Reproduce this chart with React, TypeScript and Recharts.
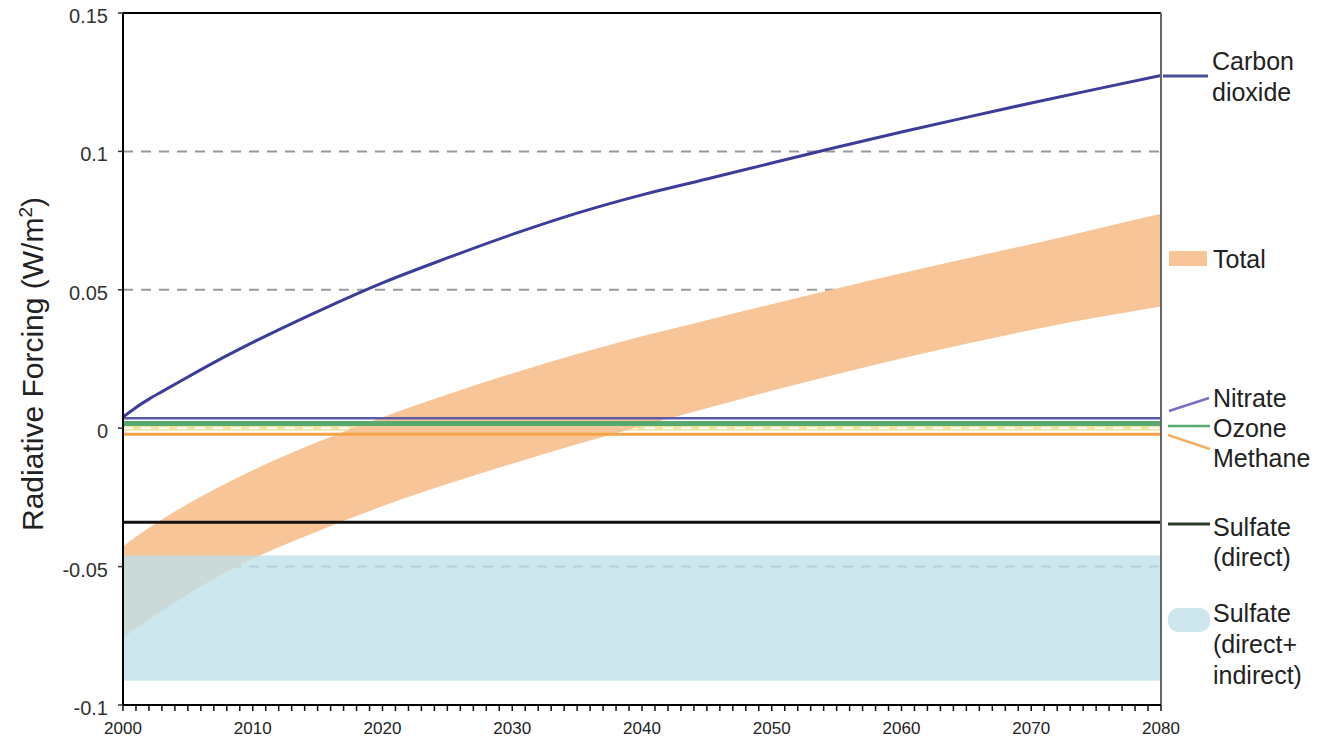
import React from 'react';
import {
  ComposedChart,
  Line,
  Area,
  XAxis,
  YAxis,
  CartesianGrid,
  ReferenceLine,
} from 'recharts';

// Carbon dioxide forcing curve (W/m²)
const CO2_YEARS = [2000, 2001, 2002, 2003, 2005, 2008, 2010, 2013, 2016, 2020, 2025, 2030, 2035, 2040, 2045, 2050, 2055, 2060, 2065, 2070, 2075, 2080];
const CO2_VALUES = [0.004, 0.0075, 0.0105, 0.0132, 0.0185, 0.0262, 0.031, 0.0378, 0.0443, 0.0525, 0.0615, 0.07, 0.0777, 0.0843, 0.09, 0.0958, 0.1015, 0.107, 0.1123, 0.1175, 0.1225, 0.1274];

// Total forcing uncertainty band
const TOTAL_YEARS = [2000, 2002, 2004, 2007, 2010, 2015, 2020, 2025, 2030, 2035, 2040, 2045, 2050, 2055, 2060, 2065, 2070, 2075, 2080];
const TOTAL_LOW = [-0.0756, -0.069, -0.063, -0.0545, -0.0472, -0.0372, -0.0282, -0.0202, -0.0128, -0.0058, 0.0008, 0.0072, 0.0135, 0.0195, 0.0252, 0.0305, 0.0355, 0.04, 0.044];
const TOTAL_HIGH = [-0.0427, -0.036, -0.0301, -0.0222, -0.0152, -0.005, 0.004, 0.0122, 0.0198, 0.0268, 0.0332, 0.039, 0.0448, 0.0505, 0.056, 0.0613, 0.0665, 0.072, 0.0775];

// Constant contributions across the whole period
const SPAN_YEARS = [2000, 2080];
const NITRATE = 0.0036;
const OZONE = 0.0017;
const METHANE = -0.0022;
const SULFATE_DIRECT = -0.034;
const SULFATE_TOTAL_LOW = -0.0912;
const SULFATE_TOTAL_HIGH = -0.046;

// Axis ticks
const Y_TICKS = [-0.1, -0.05, 0, 0.05, 0.1, 0.15];
const Y_TICK_LABELS = ['-0.1', '-0.05', '0', '0.05', '0.1', '0.15'];
const X_LABEL_YEARS = [2000, 2010, 2020, 2030, 2040, 2050, 2060, 2070, 2080];
const X_MINOR_TICKS = Array.from({ length: 81 }, (_, i) => 2000 + i);

const FONT = '"Liberation Sans", Arial, Helvetica, sans-serif';

const co2Data = CO2_YEARS.map((year, i) => ({ year, v: CO2_VALUES[i] }));
const totalData = TOTAL_YEARS.map((year, i) => ({ year, range: [TOTAL_LOW[i], TOTAL_HIGH[i]] }));
const flat = (v: number) => SPAN_YEARS.map((year) => ({ year, v }));
const sulfateBand = SPAN_YEARS.map((year) => ({ year, range: [SULFATE_TOTAL_LOW, SULFATE_TOTAL_HIGH] }));

const YTick = (props: any) => {
  const { x, y, payload } = props;
  const idx = Y_TICKS.indexOf(payload.value);
  return (
    <text x={x} y={y + 10} textAnchor="end" fontSize={20} fill="#333" fontFamily={FONT}>
      {idx >= 0 ? Y_TICK_LABELS[idx] : ''}
    </text>
  );
};

const XTick = (props: any) => {
  const { x, y, payload } = props;
  if (!X_LABEL_YEARS.includes(payload.value)) return <g />;
  return (
    <text x={x} y={y + 21} textAnchor="middle" fontSize={17} fill="#222" fontFamily={FONT}>
      {String(payload.value)}
    </text>
  );
};

const Legend = () => (
  <svg
    width={1323}
    height={739}
    style={{ position: 'absolute', left: 0, top: 0, pointerEvents: 'none' }}
    fontFamily={FONT}
  >
    <text transform="rotate(-90)" x={-364} y={43} textAnchor="middle" fontSize={30} fill="#222">
      Radiative Forcing (W/m<tspan dy={-11} fontSize={19}>2</tspan>
      <tspan dy={11}>)</tspan>
    </text>

    <g fontSize={25} fill="#222">
      <line x1={1163} y1={76} x2={1208} y2={76} stroke="#4a4d9c" strokeWidth={3} />
      <text x={1212} y={70}>Carbon</text>
      <text x={1212} y={101}>dioxide</text>

      <rect x={1169} y={251} width={38} height={15} fill="#f7c598" />
      <text x={1213} y={268}>Total</text>

      <line x1={1169} y1={411} x2={1209} y2={398} stroke="#7a6fc2" strokeWidth={2.5} />
      <text x={1213} y={407}>Nitrate</text>
      <line x1={1168} y1={426} x2={1210} y2={426} stroke="#5aaa6e" strokeWidth={2.5} />
      <text x={1213} y={437}>Ozone</text>
      <line x1={1168} y1={435} x2={1210} y2={449} stroke="#f2b060" strokeWidth={2.5} />
      <text x={1213} y={467}>Methane</text>

      <line x1={1168} y1={524} x2={1210} y2={524} stroke="#2a3a2a" strokeWidth={3} />
      <text x={1213} y={536}>Sulfate</text>
      <text x={1213} y={566}>(direct)</text>

      <rect x={1168} y={608} width={42} height={24} rx={10} fill="#cde6ee" />
      <text x={1213} y={622}>Sulfate</text>
      <text x={1213} y={653}>(direct+</text>
      <text x={1213} y={684}>indirect)</text>
    </g>
  </svg>
);

export default function App() {
  return (
    <div style={{ position: 'absolute', left: 0, top: 0, width: 1323, height: 739, background: '#fff' }}>
      <ComposedChart width={1323} height={739} margin={{ top: 13, right: 162, bottom: 0, left: 0 }}>
        <CartesianGrid vertical={false} horizontalValues={[0]} stroke="#efe2a2" strokeWidth={5} />
        <CartesianGrid vertical={false} horizontalValues={[0]} stroke="#ffffff" strokeWidth={2} strokeDasharray="10 8" />
        <CartesianGrid vertical={false} horizontalValues={[0.1, 0.05, -0.05]} stroke="#9a9a9a" strokeWidth={2} strokeDasharray="10 8" />
        <XAxis
          type="number"
          dataKey="year"
          domain={[2000, 2080]}
          ticks={X_MINOR_TICKS}
          interval={0}
          allowDataOverflow
          height={34}
          tickSize={6}
          tickMargin={2}
          axisLine={{ stroke: '#000', strokeWidth: 2 }}
          tickLine={{ stroke: '#111', strokeWidth: 1.5 }}
          tick={<XTick />}
        />
        <YAxis
          type="number"
          domain={[-0.1, 0.15]}
          ticks={Y_TICKS}
          interval={0}
          allowDataOverflow
          width={123}
          tickSize={5}
          tickMargin={10}
          axisLine={{ stroke: '#000', strokeWidth: 2 }}
          tickLine={{ stroke: '#333', strokeWidth: 1.5 }}
          tick={<YTick />}
        />
        <Area data={totalData} dataKey="range" type="monotone" fill="#f7c598" fillOpacity={1} stroke="none" isAnimationActive={false} />
        <Area data={sulfateBand} dataKey="range" type="linear" fill="#bfe0ea" fillOpacity={0.78} stroke="none" isAnimationActive={false} />
        <Line data={flat(SULFATE_DIRECT)} dataKey="v" type="linear" stroke="#111" strokeWidth={3} dot={false} isAnimationActive={false} />
        <Line data={flat(METHANE)} dataKey="v" type="linear" stroke="#f4a446" strokeWidth={3} dot={false} isAnimationActive={false} />
        <Line data={flat(OZONE)} dataKey="v" type="linear" stroke="#58a96f" strokeWidth={5} dot={false} isAnimationActive={false} />
        <Line data={flat(NITRATE)} dataKey="v" type="linear" stroke="#5d5aa8" strokeWidth={2.5} dot={false} isAnimationActive={false} />
        <Line data={co2Data} dataKey="v" type="monotone" stroke="#3b3d98" strokeWidth={3} dot={false} isAnimationActive={false} />
        <ReferenceLine y={0.15} stroke="#000" strokeWidth={2} />
        <ReferenceLine x={2080} stroke="#666" strokeWidth={2} />
      </ComposedChart>
      <Legend />
    </div>
  );
}
